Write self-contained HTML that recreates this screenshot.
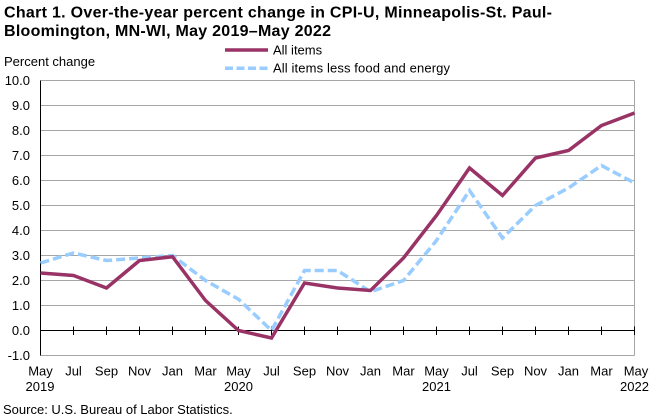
<!DOCTYPE html>
<html>
<head>
<meta charset="utf-8">
<style>
  html, body { margin: 0; padding: 0; background: #ffffff; }
  body { width: 660px; height: 420px; overflow: hidden; }
  svg { display: block; }
  text { font-family: "Liberation Sans", Arial, sans-serif; fill: #000; }
</style>
</head>
<body>
<svg width="660" height="420" viewBox="0 0 660 420" xmlns="http://www.w3.org/2000/svg">
  <rect x="0" y="0" width="660" height="420" fill="#ffffff"/>

  <!-- Title -->
  <text x="4" y="17.5" font-size="16" font-weight="bold" textLength="548" lengthAdjust="spacing">Chart 1. Over-the-year percent change in CPI-U, Minneapolis-St. Paul-</text>
  <text x="4" y="36" font-size="16" font-weight="bold" textLength="327" lengthAdjust="spacing">Bloomington, MN-WI, May 2019–May 2022</text>

  <!-- Y axis title -->
  <text x="4" y="66" font-size="13">Percent change</text>

  <!-- Legend -->
  <line x1="225" y1="50" x2="268" y2="50" stroke="#993366" stroke-width="3.5"/>
  <text x="273" y="54.5" font-size="13">All items</text>
  <line x1="225" y1="68.3" x2="268" y2="68.3" stroke="#99ccff" stroke-width="3.5" stroke-dasharray="8 3.5"/>
  <text x="273" y="72.5" font-size="13" textLength="177" lengthAdjust="spacing">All items less food and energy</text>

  <!-- Gridlines -->
  <g stroke="#a6a6a6" stroke-width="1">
    <line x1="40.5" y1="80.5" x2="634.5" y2="80.5"/>
    <line x1="40.5" y1="105.5" x2="634.5" y2="105.5"/>
    <line x1="40.5" y1="130.5" x2="634.5" y2="130.5"/>
    <line x1="40.5" y1="155.5" x2="634.5" y2="155.5"/>
    <line x1="40.5" y1="180.5" x2="634.5" y2="180.5"/>
    <line x1="40.5" y1="205.5" x2="634.5" y2="205.5"/>
    <line x1="40.5" y1="230.5" x2="634.5" y2="230.5"/>
    <line x1="40.5" y1="255.5" x2="634.5" y2="255.5"/>
    <line x1="40.5" y1="280.5" x2="634.5" y2="280.5"/>
    <line x1="40.5" y1="305.5" x2="634.5" y2="305.5"/>
    <line x1="40.5" y1="355.5" x2="634.5" y2="355.5"/>
    <line x1="634.5" y1="80.5" x2="634.5" y2="355.5"/>
  </g>

  <!-- Left axis -->
  <line x1="40.5" y1="80.5" x2="40.5" y2="355.5" stroke="#000" stroke-width="1"/>
  <!-- Zero line -->
  <line x1="40.5" y1="330.5" x2="634.5" y2="330.5" stroke="#000" stroke-width="1"/>
  <!-- Ticks -->
  <g stroke="#000" stroke-width="1">
    <line x1="73.5" y1="326.5" x2="73.5" y2="335"/>
    <line x1="106.5" y1="326.5" x2="106.5" y2="335"/>
    <line x1="139.5" y1="326.5" x2="139.5" y2="335"/>
    <line x1="172.5" y1="326.5" x2="172.5" y2="335"/>
    <line x1="205.5" y1="326.5" x2="205.5" y2="335"/>
    <line x1="238.5" y1="326.5" x2="238.5" y2="335"/>
    <line x1="271.5" y1="326.5" x2="271.5" y2="335"/>
    <line x1="304.5" y1="326.5" x2="304.5" y2="335"/>
    <line x1="337.5" y1="326.5" x2="337.5" y2="335"/>
    <line x1="370.5" y1="326.5" x2="370.5" y2="335"/>
    <line x1="403.5" y1="326.5" x2="403.5" y2="335"/>
    <line x1="436.5" y1="326.5" x2="436.5" y2="335"/>
    <line x1="469.5" y1="326.5" x2="469.5" y2="335"/>
    <line x1="502.5" y1="326.5" x2="502.5" y2="335"/>
    <line x1="535.5" y1="326.5" x2="535.5" y2="335"/>
    <line x1="568.5" y1="326.5" x2="568.5" y2="335"/>
    <line x1="601.5" y1="326.5" x2="601.5" y2="335"/>
    <line x1="634.5" y1="326.5" x2="634.5" y2="335"/>
  </g>

  <!-- Y labels -->
  <g font-size="13" text-anchor="end">
    <text x="30" y="85">10.0</text>
    <text x="30" y="110">9.0</text>
    <text x="30" y="135">8.0</text>
    <text x="30" y="160">7.0</text>
    <text x="30" y="185">6.0</text>
    <text x="30" y="210">5.0</text>
    <text x="30" y="235">4.0</text>
    <text x="30" y="260">3.0</text>
    <text x="30" y="285">2.0</text>
    <text x="30" y="310">1.0</text>
    <text x="30" y="335">0.0</text>
    <text x="30" y="360">-1.0</text>
  </g>

  <!-- X labels -->
  <g font-size="13" text-anchor="middle">
    <text x="40.5" y="375.5">May</text>
    <text x="73.5" y="375.5">Jul</text>
    <text x="106.5" y="375.5">Sep</text>
    <text x="139.5" y="375.5">Nov</text>
    <text x="172.5" y="375.5">Jan</text>
    <text x="205.5" y="375.5">Mar</text>
    <text x="238.5" y="375.5">May</text>
    <text x="271.5" y="375.5">Jul</text>
    <text x="304.5" y="375.5">Sep</text>
    <text x="337.5" y="375.5">Nov</text>
    <text x="370.5" y="375.5">Jan</text>
    <text x="403.5" y="375.5">Mar</text>
    <text x="436.5" y="375.5">May</text>
    <text x="469.5" y="375.5">Jul</text>
    <text x="502.5" y="375.5">Sep</text>
    <text x="535.5" y="375.5">Nov</text>
    <text x="568.5" y="375.5">Jan</text>
    <text x="601.5" y="375.5">Mar</text>
    <text x="636" y="375.5">May</text>
    <text x="40" y="391">2019</text>
    <text x="238.5" y="391">2020</text>
    <text x="436.5" y="391">2021</text>
    <text x="634.5" y="391">2022</text>
  </g>

  <!-- Source -->
  <text x="3" y="414" font-size="13">Source: U.S. Bureau of Labor Statistics.</text>

  <!-- Core series (dashed light blue) -->
  <polyline fill="none" stroke="#99ccff" stroke-width="3.5" stroke-dasharray="9 4" stroke-linejoin="miter"
    points="40.5,263 73.5,253 106.5,260.5 139.5,258 172.5,255.5 205.5,280.5 238.5,299.25 271.5,330.5 304.5,270.5 337.5,270.5 370.5,291.75 403.5,280.5 436.5,240.5 469.5,190.5 502.5,238 535.5,205.5 568.5,188 601.5,165.5 634.5,183"/>

  <!-- All items series (maroon) -->
  <polyline fill="none" stroke="#993366" stroke-width="3.5" stroke-linejoin="miter"
    points="40.5,273 73.5,275.5 106.5,288 139.5,260.5 172.5,256.75 205.5,300.5 238.5,330.5 271.5,338 304.5,283 337.5,288 370.5,290.5 403.5,258 436.5,215.5 469.5,168 502.5,195.5 535.5,158 568.5,150.5 601.5,125.5 634.5,113"/>
</svg>
</body>
</html>
